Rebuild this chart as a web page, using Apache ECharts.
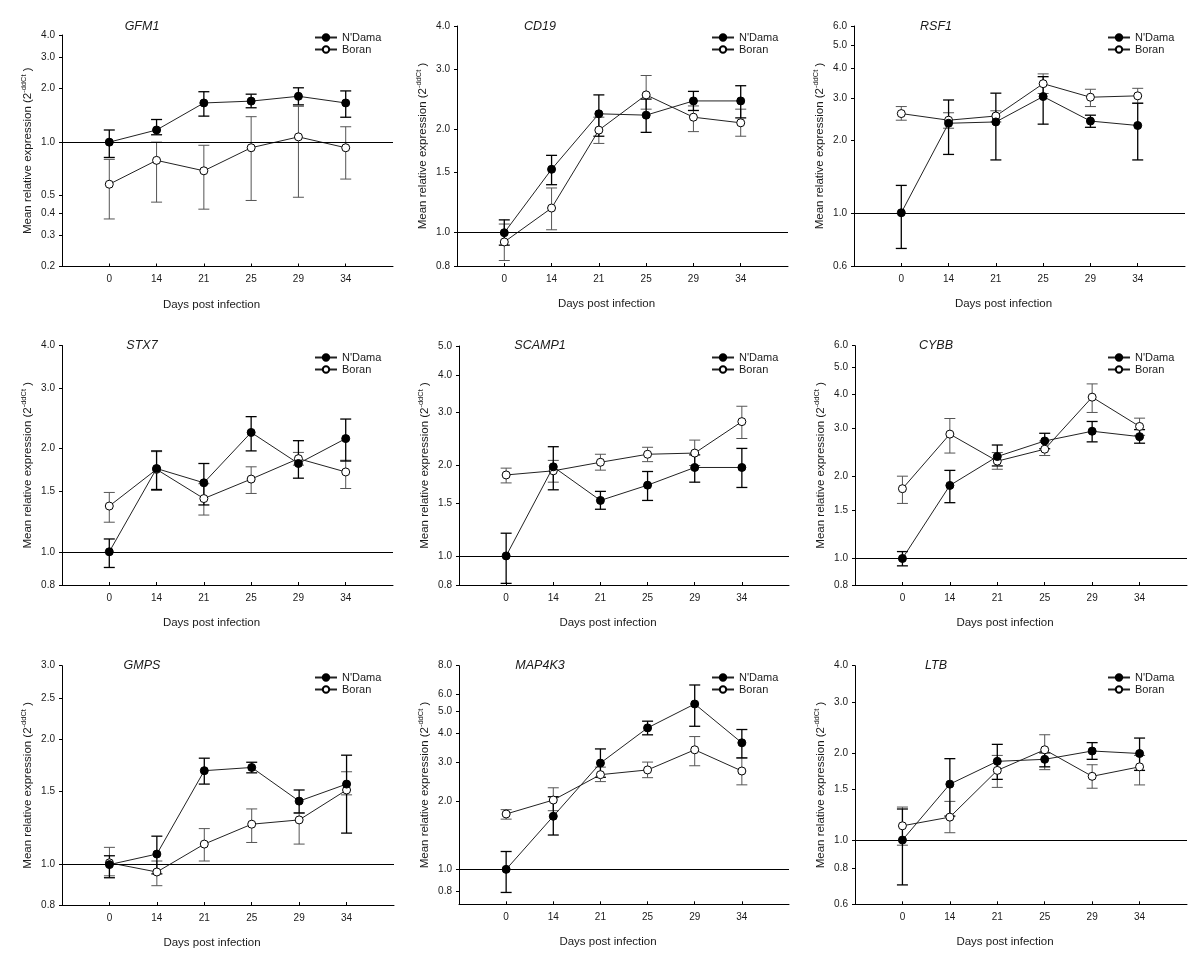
<!DOCTYPE html>
<html><head><meta charset="utf-8">
<script src="https://cdn.jsdelivr.net/npm/echarts@6/dist/echarts.min.js"></script>
<style>html,body{margin:0;padding:0;background:#fff}#c{width:1200px;height:966px}</style>
</head><body><div id="c"></div>
<script>
// ---------- DATA ----------
const days = ['0', '14', '21', '25', '29', '34'];
const genes = ['GFM1', 'CD19', 'RSF1', 'STX7', 'SCAMP1', 'CYBB', 'GMPS', 'MAP4K3', 'LTB'];

const gfm1NDama   = [1.00, 1.17, 1.66, 1.70, 1.81, 1.66];
const gfm1NDamaHi = [1.17, 1.34, 1.92, 1.86, 2.02, 1.94];
const gfm1NDamaLo = [0.82, 1.10, 1.40, 1.56, 1.62, 1.38];
const gfm1Boran   = [0.58, 0.79, 0.69, 0.93, 1.07, 0.93];
const gfm1BoranHi = [0.80, 1.00, 0.96, 1.39, 1.59, 1.22];
const gfm1BoranLo = [0.37, 0.46, 0.42, 0.47, 0.49, 0.62];
const gfm1Ticks   = [0.2, 0.3, 0.4, 0.5, 1.0, 2.0, 3.0, 4.0];

const cd19NDama   = [1.00, 1.53, 2.22, 2.20, 2.42, 2.42];
const cd19NDamaHi = [1.09, 1.68, 2.52, 2.45, 2.58, 2.68];
const cd19NDamaLo = [0.92, 1.38, 1.91, 1.96, 2.27, 2.16];
const cd19Boran   = [0.94, 1.18, 1.99, 2.52, 2.17, 2.09];
const cd19BoranHi = [1.06, 1.35, 2.17, 2.87, 2.34, 2.29];
const cd19BoranLo = [0.83, 1.02, 1.82, 2.29, 1.97, 1.91];
const cd19Ticks   = [0.8, 1.0, 1.5, 2.0, 3.0, 4.0];

const rsf1NDama   = [1.00, 2.36, 2.39, 3.05, 2.41, 2.31];
const rsf1NDamaHi = [1.30, 2.95, 3.15, 3.69, 2.55, 2.86];
const rsf1NDamaLo = [0.71, 1.75, 1.66, 2.34, 2.27, 1.66];
const rsf1Boran   = [2.59, 2.43, 2.53, 3.45, 3.03, 3.07];
const rsf1BoranHi = [2.77, 2.61, 2.66, 3.79, 3.27, 3.30];
const rsf1BoranLo = [2.43, 2.25, 2.39, 3.14, 2.77, 2.86];
const rsf1Ticks   = [0.6, 1.0, 2.0, 3.0, 4.0, 5.0, 6.0];

const stx7NDama   = [1.00, 1.75, 1.59, 2.23, 1.81, 2.14];
const stx7NDamaHi = [1.09, 1.97, 1.81, 2.48, 2.11, 2.44];
const stx7NDamaLo = [0.90, 1.52, 1.37, 1.97, 1.64, 1.84];
const stx7Boran   = [1.36, 1.74, 1.43, 1.63, 1.87, 1.71];
const stx7BoranHi = [1.49, 1.96, 1.58, 1.77, 1.95, 1.85];
const stx7BoranLo = [1.22, 1.51, 1.28, 1.48, 1.79, 1.53];
const stx7Ticks   = [0.8, 1.0, 1.5, 2.0, 3.0, 4.0];

const scamp1NDama   = [1.00, 1.98, 1.53, 1.72, 1.97, 1.97];
const scamp1NDamaHi = [1.19, 2.31, 1.64, 1.91, 2.17, 2.28];
const scamp1NDamaLo = [0.81, 1.66, 1.43, 1.53, 1.76, 1.69];
const scamp1Boran   = [1.86, 1.92, 2.05, 2.18, 2.20, 2.80];
const scamp1BoranHi = [1.96, 2.08, 2.18, 2.30, 2.43, 3.15];
const scamp1BoranLo = [1.75, 1.76, 1.93, 2.06, 2.00, 2.46];
const scamp1Ticks   = [0.8, 1.0, 1.5, 2.0, 3.0, 4.0, 5.0];

const cybbNDama   = [1.00, 1.85, 2.36, 2.69, 2.92, 2.79];
const cybbNDamaHi = [1.06, 2.10, 2.60, 2.87, 3.17, 2.96];
const cybbNDamaLo = [0.94, 1.60, 2.18, 2.52, 2.67, 2.64];
const cybbBoran   = [1.80, 2.85, 2.27, 2.51, 3.89, 3.04];
const cybbBoranHi = [2.00, 3.25, 2.44, 2.69, 4.35, 3.26];
const cybbBoranLo = [1.59, 2.43, 2.12, 2.38, 3.42, 2.82];
const cybbTicks   = [0.8, 1.0, 1.5, 2.0, 3.0, 4.0, 5.0, 6.0];

const gmpsNDama   = [1.00, 1.06, 1.68, 1.71, 1.42, 1.56];
const gmpsNDamaHi = [1.05, 1.17, 1.80, 1.76, 1.51, 1.83];
const gmpsNDamaLo = [0.93, 0.95, 1.56, 1.66, 1.33, 1.19];
const gmpsBoran   = [1.01, 0.96, 1.12, 1.25, 1.28, 1.51];
const gmpsBoranHi = [1.10, 1.02, 1.22, 1.36, 1.33, 1.67];
const gmpsBoranLo = [0.94, 0.89, 1.02, 1.13, 1.12, 1.47];
const gmpsTicks   = [0.8, 1.0, 1.5, 2.0, 2.5, 3.0];

const map4k3NDama   = [1.00, 1.72, 2.96, 4.24, 5.41, 3.64];
const map4k3NDamaHi = [1.20, 2.10, 3.42, 4.54, 6.57, 4.17];
const map4k3NDamaLo = [0.79, 1.42, 2.56, 3.95, 4.31, 3.12];
const map4k3Boran   = [1.76, 2.03, 2.63, 2.76, 3.39, 2.73];
const map4k3BoranHi = [1.84, 2.30, 2.84, 2.99, 3.88, 3.12];
const map4k3BoranLo = [1.67, 1.82, 2.45, 2.55, 2.88, 2.37];
const map4k3Ticks   = [0.8, 1.0, 2.0, 3.0, 4.0, 5.0, 6.0, 8.0];

const ltbNDama   = [1.00, 1.56, 1.87, 1.90, 2.03, 1.99];
const ltbNDamaHi = [1.28, 1.91, 2.14, 2.00, 2.17, 2.25];
const ltbNDamaLo = [0.70, 1.21, 1.62, 1.79, 1.90, 1.74];
const ltbBoran   = [1.12, 1.20, 1.74, 2.05, 1.66, 1.79];
const ltbBoranHi = [1.30, 1.36, 1.96, 2.31, 1.82, 1.96];
const ltbBoranLo = [0.96, 1.06, 1.52, 1.75, 1.51, 1.55];
const ltbTicks   = [0.6, 0.8, 1.0, 1.5, 2.0, 3.0, 4.0];

// axis ranges [min, max]
const yRanges = [[0.2, 4], [0.8, 4], [0.6, 6], [0.8, 4], [0.8, 5], [0.8, 6], [0.8, 3], [0.7, 8], [0.6, 4]];

const panels = [
  [gfm1NDama, gfm1NDamaHi, gfm1NDamaLo, gfm1Boran, gfm1BoranHi, gfm1BoranLo, gfm1Ticks],
  [cd19NDama, cd19NDamaHi, cd19NDamaLo, cd19Boran, cd19BoranHi, cd19BoranLo, cd19Ticks],
  [rsf1NDama, rsf1NDamaHi, rsf1NDamaLo, rsf1Boran, rsf1BoranHi, rsf1BoranLo, rsf1Ticks],
  [stx7NDama, stx7NDamaHi, stx7NDamaLo, stx7Boran, stx7BoranHi, stx7BoranLo, stx7Ticks],
  [scamp1NDama, scamp1NDamaHi, scamp1NDamaLo, scamp1Boran, scamp1BoranHi, scamp1BoranLo, scamp1Ticks],
  [cybbNDama, cybbNDamaHi, cybbNDamaLo, cybbBoran, cybbBoranHi, cybbBoranLo, cybbTicks],
  [gmpsNDama, gmpsNDamaHi, gmpsNDamaLo, gmpsBoran, gmpsBoranHi, gmpsBoranLo, gmpsTicks],
  [map4k3NDama, map4k3NDamaHi, map4k3NDamaLo, map4k3Boran, map4k3BoranHi, map4k3BoranLo, map4k3Ticks],
  [ltbNDama, ltbNDamaHi, ltbNDamaLo, ltbBoran, ltbBoranHi, ltbBoranLo, ltbTicks]
];

// ---------- LAYOUT ----------
const gridBoxes = [
  [62, 35, 331, 231.5], [457, 26, 331, 240], [854, 26, 331, 240],
  [62, 345.5, 331, 239.5], [459, 346, 330, 239], [855, 345.7, 332, 239.3],
  [62, 665.7, 332, 239.3], [459, 665.7, 330, 238.6], [855, 665.7, 332, 238.6]
];
const colTitleX = [142, 540, 936];
const rowTitleY = [20, 339, 659];
const colLegendX = [314, 711, 1107];
const rowLegendY = [32, 352, 672];

const FONT = '"Liberation Sans", Arial, Helvetica, sans-serif';
const TXT = '#1a1a1a';

function errRender(color, width) {
  return function (params, api) {
    const x = api.value(0);
    const a = api.coord([x, api.value(1)]);
    const b = api.coord([x, api.value(2)]);
    const hw = 5.5;
    const style = { stroke: color, lineWidth: width, fill: null };
    return {
      type: 'group', children: [
        { type: 'line', shape: { x1: a[0], y1: a[1], x2: b[0], y2: b[1] }, style: style },
        { type: 'line', shape: { x1: a[0] - hw, y1: a[1], x2: a[0] + hw, y2: a[1] }, style: style },
        { type: 'line', shape: { x1: b[0] - hw, y1: b[1], x2: b[0] + hw, y2: b[1] }, style: style }
      ]
    };
  };
}

const option = {
  animation: false, backgroundColor: '#fff',
  textStyle: { fontFamily: FONT },
  title: [], legend: [], grid: [], xAxis: [], yAxis: [], series: []
};

panels.forEach(function (p, k) {
  const [nd, ndHi, ndLo, bo, boHi, boLo, ticks] = p;
  const box = gridBoxes[k];
  const col = k % 3, row = Math.floor(k / 3);
  option.grid.push({ left: box[0], top: box[1], width: box[2], height: box[3], containLabel: false, outerBoundsMode: 'none' });
  option.title.push({
    text: genes[k], left: colTitleX[col], top: rowTitleY[row], textAlign: 'center', padding: 0,
    textStyle: { fontSize: 12.5, fontStyle: 'italic', fontWeight: 'normal', color: TXT, fontFamily: FONT }
  });
  option.legend.push({
    data: ["N'Dama", 'Boran'], orient: 'vertical', left: colLegendX[col], top: rowLegendY[row],
    itemWidth: 22, itemHeight: 8, itemGap: 1, padding: 0, selectedMode: false,
    textStyle: { fontSize: 11, color: TXT, fontFamily: FONT }
  });
  option.xAxis.push({
    type: 'value', gridIndex: k, min: -1, max: 6, interval: 1,
    name: 'Days post infection', nameLocation: 'middle', nameGap: 32,
    nameTextStyle: { fontSize: 11.5, color: TXT, padding: [0, 32, 0, 0], fontFamily: FONT },
    axisLine: { onZero: false, lineStyle: { color: '#000', width: 1 } },
    axisTick: { show: true, inside: true, length: 3, customValues: [0, 1, 2, 3, 4, 5], lineStyle: { color: '#000' } },
    axisLabel: { customValues: [0, 1, 2, 3, 4, 5], formatter: function (v) { return days[Math.round(v)]; }, fontSize: 10, color: TXT, margin: 8, fontFamily: FONT },
    splitLine: { show: false }
  });
  option.yAxis.push({
    type: 'log', logBase: 10, gridIndex: k, min: yRanges[k][0], max: yRanges[k][1],
    name: 'Mean relative expression (2{s|-ddCt} )', nameLocation: 'middle', nameGap: 26, nameRotate: 90,
    nameTextStyle: { fontSize: 11.5, color: TXT, lineHeight: 16, fontFamily: FONT,
      rich: { s: { fontSize: 7.5, lineHeight: 8, verticalAlign: 'top', color: TXT, fontFamily: FONT } } },
    axisLine: { show: true, onZero: false, lineStyle: { color: '#000', width: 1 } },
    axisTick: { show: true, inside: false, length: 3, customValues: ticks, lineStyle: { color: '#000' } },
    axisLabel: { customValues: ticks, formatter: function (v) { return Number(v).toFixed(1); }, fontSize: 10, color: TXT, margin: 7, fontFamily: FONT },
    splitLine: { show: false }, minorTick: { show: false }
  });
  option.series.push({
    type: 'custom', name: 'Boran SE', xAxisIndex: k, yAxisIndex: k, z: 1,
    renderItem: errRender('#555', 1), encode: { x: 0, y: [1, 2] }, clip: false,
    data: boLo.map(function (lo, i) { return [i, lo, boHi[i]]; })
  });
  option.series.push({
    type: 'custom', name: "N'Dama SE", xAxisIndex: k, yAxisIndex: k, z: 1,
    renderItem: errRender('#000', 1.3), encode: { x: 0, y: [1, 2] }, clip: false,
    data: ndLo.map(function (lo, i) { return [i, lo, ndHi[i]]; })
  });
  option.series.push({
    type: 'line', name: 'Boran', xAxisIndex: k, yAxisIndex: k, z: 3,
    symbol: 'circle', symbolSize: 8, showSymbol: true,
    lineStyle: { color: '#222', width: 1 },
    itemStyle: { color: '#fff', borderColor: '#000', borderWidth: 1 },
    data: bo.map(function (v, i) { return [i, v]; })
  });
  option.series.push({
    type: 'line', name: "N'Dama", xAxisIndex: k, yAxisIndex: k, z: 4,
    symbol: 'circle', symbolSize: 8, showSymbol: true,
    lineStyle: { color: '#222', width: 1 },
    itemStyle: { color: '#000', borderColor: '#000', borderWidth: 1 },
    data: nd.map(function (v, i) { return [i, v]; }),
    markLine: {
      silent: true, symbol: ['none', 'none'], label: { show: false },
      lineStyle: { color: '#000', width: 1, type: 'solid' },
      data: [{ yAxis: 1 }]
    }
  });
});

const chart = echarts.init(document.getElementById('c'), null, { renderer: 'canvas' });
chart.setOption(option);
</script>
</body></html>
